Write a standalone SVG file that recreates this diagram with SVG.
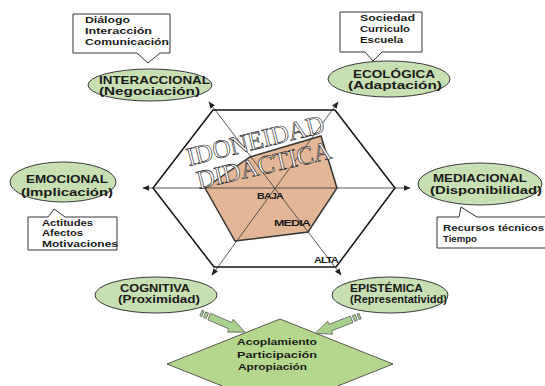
<svg xmlns="http://www.w3.org/2000/svg" width="545" height="386" viewBox="0 0 545 386">
<defs>
<style>
.lbl{font-family:"Liberation Sans",Arial,sans-serif;font-weight:bold;fill:#1a1a1a;}
.el{font-size:11px;}
.bx{font-size:9px;}
.lv{font-size:8.5px;letter-spacing:-0.6px;}
.ell{fill:#c6e0b4;stroke:#3a3a3a;stroke-width:1;}
.box{fill:#fff;stroke:#333;stroke-width:1;}
.axis{stroke:#333;stroke-width:0.8;fill:none;}
.big{font-family:"Liberation Serif","Times New Roman",serif;font-size:26px;fill:#fff;stroke:#222;stroke-width:0.65;}
.garrow{fill:#a9d18e;stroke:#666;stroke-width:0.8;}
</style>
<marker id="ah" viewBox="0 0 10 10" refX="9" refY="5" markerWidth="7" markerHeight="7" orient="auto-start-reverse" markerUnits="userSpaceOnUse">
<path d="M0,1 L10,5 L0,9 Z" fill="#222"/>
</marker>
</defs>
<rect width="545" height="386" fill="#fff"/>

<g id="diamond">
<polygon points="280,319 393,364 280,409 167,364" fill="#b3d88c" stroke="#555" stroke-width="1"/>
<text class="lbl bx" x="237" y="345" textLength="80" lengthAdjust="spacingAndGlyphs">Acoplamiento</text>
<text class="lbl bx" x="237" y="358" textLength="80" lengthAdjust="spacingAndGlyphs">Participación</text>
<text class="lbl bx" x="238" y="370" textLength="69" lengthAdjust="spacingAndGlyphs">Apropiación</text>
</g>

<g id="radar">
<polygon id="profile" points="205,188 250,157 321,136 337,188 308,232 235,241" fill="#e2b696" stroke="#333" stroke-width="1.5"/>
<polygon id="hexagon" points="213,110 335,110 395,188 336,267 214,267 153,188" fill="none" stroke="#111" stroke-width="1.5"/>
</g>

<g id="connectors">
<line class="axis" x1="143" y1="188" x2="410" y2="188" marker-start="url(#ah)" marker-end="url(#ah)"/>
<line class="axis" x1="209" y1="102" x2="341" y2="275" marker-start="url(#ah)" marker-end="url(#ah)"/>
<line class="axis" x1="338" y1="102" x2="212" y2="275" marker-start="url(#ah)" marker-end="url(#ah)"/>
<g transform="translate(201,313) rotate(23.4)">
<rect class="garrow" x="0" y="-3" width="2" height="6"/>
<rect class="garrow" x="4" y="-3" width="3" height="6"/>
<polygon class="garrow" points="9,-3.5 32,-3.5 32,-7 48,0 32,7 32,3.5 9,3.5"/>
</g>
<g transform="translate(360,316) rotate(158.7)">
<rect class="garrow" x="0" y="-3" width="2" height="6"/>
<rect class="garrow" x="4" y="-3" width="3" height="6"/>
<polygon class="garrow" points="9,-3.5 32,-3.5 32,-7 48,0 32,7 32,3.5 9,3.5"/>
</g>
</g>

<g id="levels">
<text class="lbl lv" x="257" y="199" textLength="26" lengthAdjust="spacingAndGlyphs">BAJA</text>
<text class="lbl lv" x="274" y="226" textLength="36" lengthAdjust="spacingAndGlyphs">MEDIA</text>
<text class="lbl lv" x="314" y="263" textLength="24" lengthAdjust="spacingAndGlyphs">ALTA</text>
</g>

<g id="title">
<text class="big" transform="translate(189,166) rotate(-14)" textLength="141" lengthAdjust="spacingAndGlyphs">IDONEIDAD</text>
<text class="big" transform="translate(199,189) rotate(-13)" textLength="137" lengthAdjust="spacingAndGlyphs">DIDACTICA</text>
</g>

<g id="interaccional">
<path class="box" d="M73,14 H170 V53 H160 L148,63 L137,53 H73 Z"/>
<text class="lbl bx" x="85" y="23" textLength="45" lengthAdjust="spacingAndGlyphs">Diálogo</text>
<text class="lbl bx" x="85" y="34" textLength="67" lengthAdjust="spacingAndGlyphs">Interacción</text>
<text class="lbl bx" x="85" y="45" textLength="84" lengthAdjust="spacingAndGlyphs">Comunicación</text>
<ellipse class="ell" cx="150" cy="85" rx="62" ry="16"/>
<text class="lbl el" x="99" y="84" textLength="111" lengthAdjust="spacingAndGlyphs">INTERACCIONAL</text>
<text class="lbl el" x="99" y="95" textLength="101" lengthAdjust="spacingAndGlyphs">(Negociación)</text>
</g>

<g id="ecologica">
<path class="box" d="M340,12 H422 V52 H382 L373,61 L365,52 H340 Z"/>
<text class="lbl bx" x="360" y="21" textLength="55" lengthAdjust="spacingAndGlyphs">Sociedad</text>
<text class="lbl bx" x="360" y="32" textLength="50" lengthAdjust="spacingAndGlyphs">Curriculo</text>
<text class="lbl bx" x="360" y="43" textLength="43" lengthAdjust="spacingAndGlyphs">Escuela</text>
<ellipse class="ell" cx="389" cy="79" rx="61" ry="18"/>
<text class="lbl el" x="353" y="78" textLength="82" lengthAdjust="spacingAndGlyphs">ECOLÓGICA</text>
<text class="lbl el" x="348" y="89" textLength="94" lengthAdjust="spacingAndGlyphs">(Adaptación)</text>
</g>

<g id="emocional">
<path class="box" d="M28,217 H48 L54,209 L65,217 H117 V250 H28 Z"/>
<text class="lbl bx" x="42" y="226" textLength="51" lengthAdjust="spacingAndGlyphs">Actitudes</text>
<text class="lbl bx" x="42" y="236" textLength="41" lengthAdjust="spacingAndGlyphs">Afectos</text>
<text class="lbl bx" x="42" y="247" textLength="76" lengthAdjust="spacingAndGlyphs">Motivaciones</text>
<ellipse class="ell" cx="63" cy="182" rx="53" ry="20"/>
<text class="lbl el" x="26" y="183" textLength="82" lengthAdjust="spacingAndGlyphs">EMOCIONAL</text>
<text class="lbl el" x="21" y="196" textLength="92" lengthAdjust="spacingAndGlyphs">(Implicación)</text>
</g>

<g id="mediacional">
<path class="box" d="M437,217 H459 L461,207 L477,217 H546 V248 H437 Z"/>
<text class="lbl bx" x="443" y="231" textLength="101" lengthAdjust="spacingAndGlyphs">Recursos técnicos</text>
<text class="lbl bx" x="443" y="242" textLength="34" lengthAdjust="spacingAndGlyphs">Tiempo</text>
<ellipse class="ell" cx="480" cy="184" rx="62" ry="21"/>
<text class="lbl el" x="433" y="182" textLength="94" lengthAdjust="spacingAndGlyphs">MEDIACIONAL</text>
<text class="lbl el" x="430" y="194" textLength="112" lengthAdjust="spacingAndGlyphs">(Disponibilidad)</text>
</g>

<g id="cognitiva">
<ellipse class="ell" cx="156" cy="295" rx="61" ry="18"/>
<text class="lbl el" x="120" y="292" textLength="70" lengthAdjust="spacingAndGlyphs">COGNITIVA</text>
<text class="lbl el" x="118" y="303" textLength="82" lengthAdjust="spacingAndGlyphs">(Proximidad)</text>
</g>

<g id="epistemica">
<ellipse class="ell" cx="390" cy="295" rx="58" ry="18"/>
<text class="lbl el" x="350" y="292" textLength="73" lengthAdjust="spacingAndGlyphs">EPISTÉMICA</text>
<text class="lbl el" x="350" y="303" textLength="97" lengthAdjust="spacingAndGlyphs">(Representatividd)</text>
</g>
</svg>
